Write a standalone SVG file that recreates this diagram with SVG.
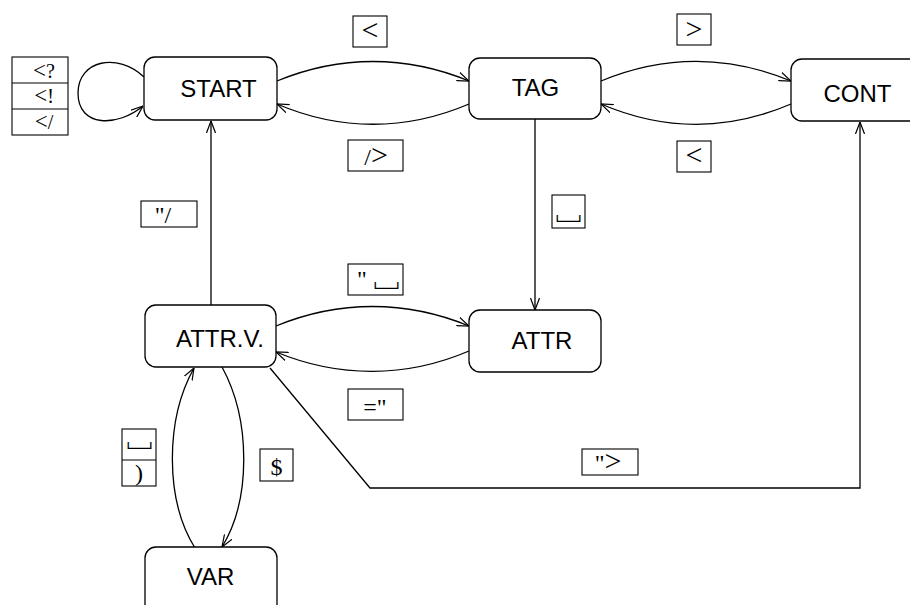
<svg xmlns="http://www.w3.org/2000/svg" width="910" height="605" viewBox="0 0 910 605">
  <style>
    .node rect { fill: #ffffff; stroke: #000000; stroke-width: 1.3; }
    .node text { font-family: "Liberation Sans", Arial, sans-serif; font-size: 24px; fill: #000000; text-anchor: middle; }
    .edge { fill: none; stroke: #000000; stroke-width: 1.3; }
    .arrow { marker-end: url(#head); }
    .lbl rect, .lbl line { fill: #ffffff; stroke: #000000; stroke-width: 1.1; }
    .lbl text { font-family: "Liberation Serif", "Times New Roman", serif; font-size: 24px; fill: #000000; text-anchor: middle; }
    .lbl .op { font-size: 30px; }
    .lbl .stack text { font-size: 20px; }
    .lbl .stack .op { font-size: 23px; }
    .lbl text.sym { font-family: "Noto Sans CJK JP", "DejaVu Sans", sans-serif; font-weight: 400; font-size: 32px; }
  </style>
  <defs>
    <marker id="head" viewBox="0 0 12 10" refX="12" refY="5" markerWidth="12" markerHeight="10" markerUnits="userSpaceOnUse" orient="auto">
      <path d="M0,0.5 L12,5 L0,9.5" fill="none" stroke="#000000" stroke-width="1.2"/>
    </marker>
  </defs>

  <rect width="910" height="605" fill="#ffffff"/>

  <!-- transitions -->
  <g id="connectors">
    <path class="edge arrow" d="M144,77 C118,52 78,60 78,93 C78,128 118,127 143,106"/>
    <path class="edge arrow" d="M277,81 C340,55 406,55 469,81"/>
    <path class="edge arrow" d="M469,104 C406,131 340,131 277,104"/>
    <path class="edge arrow" d="M601,81 C664,55 728,55 791,81"/>
    <path class="edge arrow" d="M791,104 C728,131 664,131 601,104"/>
    <path class="edge arrow" d="M535,119 L535,310"/>
    <path class="edge arrow" d="M211,305 L211,121"/>
    <path class="edge arrow" d="M276,326 C339,300 406,300 469,326"/>
    <path class="edge arrow" d="M469,351 C406,378 339,378 276,352"/>
    <path class="edge arrow" d="M270,368 L370,488 L860,488 L860,122"/>
    <path class="edge arrow" d="M195,548 C165,500 165,420 194,368"/>
    <path class="edge arrow" d="M222,367 C251,420 251,500 222,547"/>
  </g>

  <!-- states -->
  <g id="start" class="node">
    <rect x="144" y="57" width="133" height="63" rx="11"/>
    <text x="218.5" y="97">START</text>
  </g>
  <g id="tag" class="node">
    <rect x="469" y="58" width="132" height="61" rx="11"/>
    <text x="535.5" y="96">TAG</text>
  </g>
  <g id="cont" class="node">
    <rect x="791" y="59" width="140" height="62" rx="11"/>
    <text x="857.5" y="102">CONT</text>
  </g>
  <g id="attrv" class="node">
    <rect x="145" y="305" width="131" height="62" rx="11"/>
    <text x="220" y="347">ATTR.V.</text>
  </g>
  <g id="attr" class="node">
    <rect x="469" y="310" width="132" height="62" rx="11"/>
    <text x="542" y="349">ATTR</text>
  </g>
  <g id="var" class="node">
    <rect x="145" y="547" width="132" height="72" rx="11"/>
    <text x="210.5" y="585">VAR</text>
  </g>

  <!-- transition labels -->
  <g id="lbl-start-self" class="lbl">
    <rect x="12" y="57" width="56" height="78"/>
    <line x1="12" y1="83" x2="68" y2="83"/>
    <line x1="12" y1="109" x2="68" y2="109"/>
    <g class="stack">
      <text x="44" y="78"><tspan class="op">&lt;</tspan>?</text>
      <text x="44" y="103"><tspan class="op">&lt;</tspan>!</text>
      <text x="44" y="129"><tspan class="op">&lt;</tspan>/</text>
    </g>
  </g>
  <g id="lbl-start-tag" class="lbl">
    <rect x="353" y="16" width="34" height="31"/>
    <text class="op" x="370" y="40">&lt;</text>
  </g>
  <g id="lbl-tag-start" class="lbl">
    <rect x="348" y="140" width="55" height="31"/>
    <text x="376" y="165">/<tspan class="op">&gt;</tspan></text>
  </g>
  <g id="lbl-tag-cont" class="lbl">
    <rect x="677" y="14" width="34" height="31"/>
    <text class="op" x="694" y="39">&gt;</text>
  </g>
  <g id="lbl-cont-tag" class="lbl">
    <rect x="677" y="141" width="34" height="31"/>
    <text class="op" x="694" y="165">&lt;</text>
  </g>
  <g id="lbl-tag-attr" class="lbl">
    <rect x="552" y="195" width="33" height="33"/>
    <text class="sym" x="568.5" y="218">␣</text>
  </g>
  <g id="lbl-attrv-start" class="lbl">
    <rect x="141" y="201" width="56" height="26"/>
    <text x="163" y="223">"/</text>
  </g>
  <g id="lbl-attrv-attr" class="lbl">
    <rect x="348" y="264" width="55" height="31"/>
    <text x="362" y="287">"</text>
    <text class="sym" x="386.5" y="285">␣</text>
  </g>
  <g id="lbl-attr-attrv" class="lbl">
    <rect x="348" y="389" width="55" height="31"/>
    <text x="375" y="415">="</text>
  </g>
  <g id="lbl-attrv-cont" class="lbl">
    <rect x="582" y="449" width="56" height="26"/>
    <text x="608" y="471">"<tspan class="op">&gt;</tspan></text>
  </g>
  <g id="lbl-var-attrv" class="lbl">
    <rect x="122" y="429" width="34" height="57"/>
    <line x1="122" y1="460" x2="156" y2="460"/>
    <text class="sym" x="139.5" y="445">␣</text>
    <text x="139" y="481">)</text>
  </g>
  <g id="lbl-attrv-var" class="lbl">
    <rect x="260" y="449" width="33" height="32"/>
    <text x="276.5" y="475">$</text>
  </g>
</svg>
